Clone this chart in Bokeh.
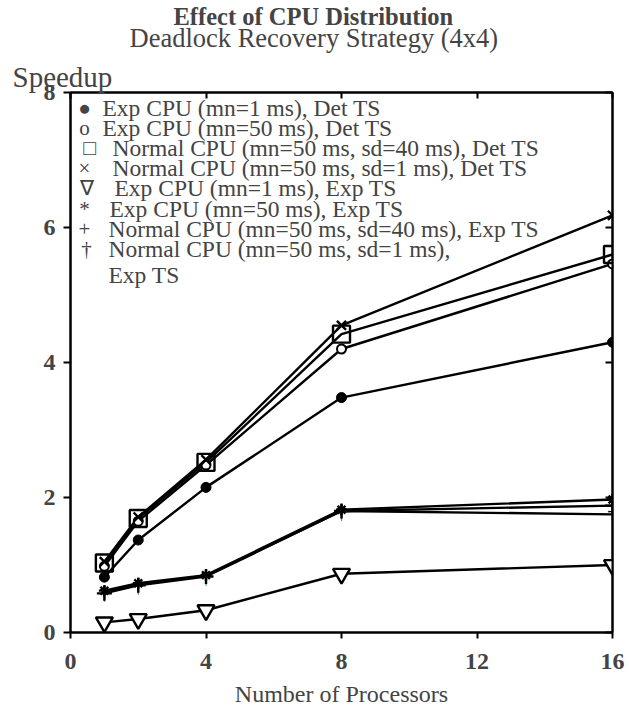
from bokeh.plotting import figure
from bokeh.models import Range1d, LinearAxis, Label, FixedTicker, Title
from bokeh.core.properties import value
from bokeh.embed import file_html
from bokeh.resources import INLINE

# ---------------- data ----------------
processors = [1, 2, 4, 8, 16]
exp1_det = [0.82, 1.37, 2.15, 3.48, 4.30]      # Exp CPU (mn=1 ms), Det TS
exp50_det = [0.98, 1.65, 2.48, 4.20, 5.46]     # Exp CPU (mn=50 ms), Det TS
norm40_det = [1.03, 1.69, 2.52, 4.42, 5.60]    # Normal CPU (mn=50, sd=40), Det TS
norm1_det = [1.05, 1.71, 2.56, 4.55, 6.18]     # Normal CPU (mn=50, sd=1), Det TS
exp1_exp = [0.15, 0.20, 0.33, 0.87, 1.00]      # Exp CPU (mn=1 ms), Exp TS
exp50_exp = [0.62, 0.73, 0.85, 1.82, 1.97]     # Exp CPU (mn=50 ms), Exp TS
norm40_exp = [0.58, 0.70, 0.83, 1.80, 1.88]    # Normal CPU (sd=40), Exp TS
norm1_exp = [0.60, 0.71, 0.84, 1.80, 1.75]     # Normal CPU (sd=1), Exp TS

x_ticks = [0, 4, 8, 12, 16]
y_ticks = [0, 2, 4, 6, 8]

title_text = "Effect of CPU Distribution"
subtitle_text = "Deadlock Recovery Strategy (4x4)"
y_label = "Speedup"
x_label = "Number of Processors"

legend_symbols = ["\u25cf", "o", "\u25a1", "\u00d7", "\u2207", "*", "+", "\u2020"]
legend_labels = [
    "Exp CPU (mn=1 ms), Det TS",
    "Exp CPU (mn=50 ms), Det TS",
    "Normal CPU (mn=50 ms, sd=40 ms), Det TS",
    "Normal CPU (mn=50 ms, sd=1 ms), Det TS",
    "Exp CPU (mn=1 ms), Exp TS",
    "Exp CPU (mn=50 ms), Exp TS",
    "Normal CPU (mn=50 ms, sd=40 ms), Exp TS",
    "Normal CPU (mn=50 ms, sd=1 ms),",
]
legend_extra = "Exp TS"

# ---------------- layout ----------------
W, H = 629, 726
L, R, T, B = 70, 612, 92, 632
X0, X1, Y0, Y1 = 0, 16, 0, 8
FONT = "Liberation Serif"


def dx(px):
    return X0 + (px - L) * (X1 - X0) / (R - L)


def dy(py):
    return Y0 + (B - py) * (Y1 - Y0) / (B - T)


p = figure(width=W, height=H, output_backend="svg", toolbar_location=None,
           x_range=Range1d(X0, X1), y_range=Range1d(Y0, Y1),
           min_border_left=L, min_border_right=W - R,
           min_border_top=T, min_border_bottom=H - B)
p.title.visible = False
p.grid.visible = False
p.outline_line_color = "black"
p.outline_line_width = 2
p.background_fill_color = "white"
p.border_fill_color = "white"

for ax in p.xaxis:
    ax.ticker = FixedTicker(ticks=x_ticks)
    ax.major_label_text_font = FONT
    ax.major_label_text_font_style = "bold"
    ax.major_label_text_font_size = "24px"
    ax.major_label_standoff = 15
    ax.major_tick_in = 0
    ax.major_tick_out = 6
    ax.minor_tick_line_color = None
    ax.axis_line_width = 2
    ax.major_tick_line_width = 2
    ax.axis_label = x_label
    ax.axis_label_text_font = FONT
    ax.axis_label_text_font_style = "normal"
    ax.axis_label_text_font_size = "24px"
    ax.axis_label_standoff = 9

for ax in p.yaxis:
    ax.ticker = FixedTicker(ticks=y_ticks)
    ax.major_label_text_font = FONT
    ax.major_label_text_font_style = "bold"
    ax.major_label_text_font_size = "24px"
    ax.major_label_standoff = 8
    ax.major_tick_in = 0
    ax.major_tick_out = 7
    ax.minor_tick_line_color = None
    ax.axis_line_width = 2
    ax.major_tick_line_width = 2

# mirrored ticks on right and top (no labels)
ra = LinearAxis(ticker=FixedTicker(ticks=y_ticks), major_label_text_font_size="1px",
                major_label_text_color=None, major_label_standoff=0,
                major_tick_in=7, major_tick_out=0, minor_tick_line_color=None,
                axis_line_width=2, major_tick_line_width=2)
p.add_layout(ra, "right")
ta = LinearAxis(ticker=FixedTicker(ticks=x_ticks), major_label_text_font_size="1px",
                major_label_text_color=None, major_label_standoff=0,
                major_tick_in=6, major_tick_out=0, minor_tick_line_color=None,
                axis_line_width=2, major_tick_line_width=2)
p.add_layout(ta, "above")

# titles stacked above the plot (added innermost first)
p.add_layout(Title(text=y_label, align="left", offset=-58, text_font=FONT,
                   text_font_style="normal", text_font_size="29px", standoff=0), "above")
p.add_layout(Title(text=subtitle_text, align="left", offset=59, text_font=FONT,
                   text_font_style="normal", text_font_size="26.5px", standoff=10.6), "above")
p.add_layout(Title(text=title_text, align="left", offset=103, text_font=FONT,
                   text_font_style="bold", text_font_size="24.5px", standoff=-29.8), "above")

LW = 2.4
# lines
for ys in [exp1_det, exp50_det, norm40_det, norm1_det,
           exp1_exp, exp50_exp, norm40_exp, norm1_exp]:
    p.line(processors, ys, line_color="black", line_width=LW)

# markers
p.scatter(processors, exp1_det, marker="circle", size=10, fill_color="black", line_color="black")
p.scatter(processors, exp50_det, marker="circle", size=9, fill_color="white", line_color="black", line_width=2)
p.scatter(processors, norm40_det, marker="square", size=17, fill_color=None, line_color="black", line_width=2.4)
p.scatter(processors, norm1_det, marker="x", size=13, line_color="black", line_width=2.4)
p.scatter(processors, exp1_exp, marker="inverted_triangle", size=17, fill_color="white", line_color="black", line_width=2.4)
p.scatter(processors, exp50_exp, marker="asterisk", size=11, line_color="black", line_width=2.4)
p.scatter(processors, norm40_exp, marker="cross", size=15, line_color="black", line_width=2.4)
p.text(processors, norm1_exp, text=["\u2020"] * len(processors), text_font=value(FONT),
       text_font_size="20px", text_align="center", text_baseline="middle", text_color="black")

# legend (text based, as in the original)
row0, step, extra_gap = 107, 20.2, 26
sym_x = [84, 84, 89, 84, 86, 84, 84, 86]
txt_x = [102, 102, 112, 112, 114, 109, 108, 108]
for i, (s, t) in enumerate(zip(legend_symbols, legend_labels)):
    yy = row0 + i * step
    p.add_layout(Label(x=dx(sym_x[i]), y=dy(yy), text=s, text_font=FONT,
                       text_font_size="21px", text_align="center", text_baseline="middle"))
    p.add_layout(Label(x=dx(txt_x[i]), y=dy(yy), text=t, text_font=FONT,
                       text_font_size="23.5px", text_align="left", text_baseline="middle"))
p.add_layout(Label(x=dx(108), y=dy(row0 + 7 * step + extra_gap), text=legend_extra, text_font=FONT,
                   text_font_size="23.5px", text_align="left", text_baseline="middle"))

open("out.html", "w").write(file_html(p, INLINE))
